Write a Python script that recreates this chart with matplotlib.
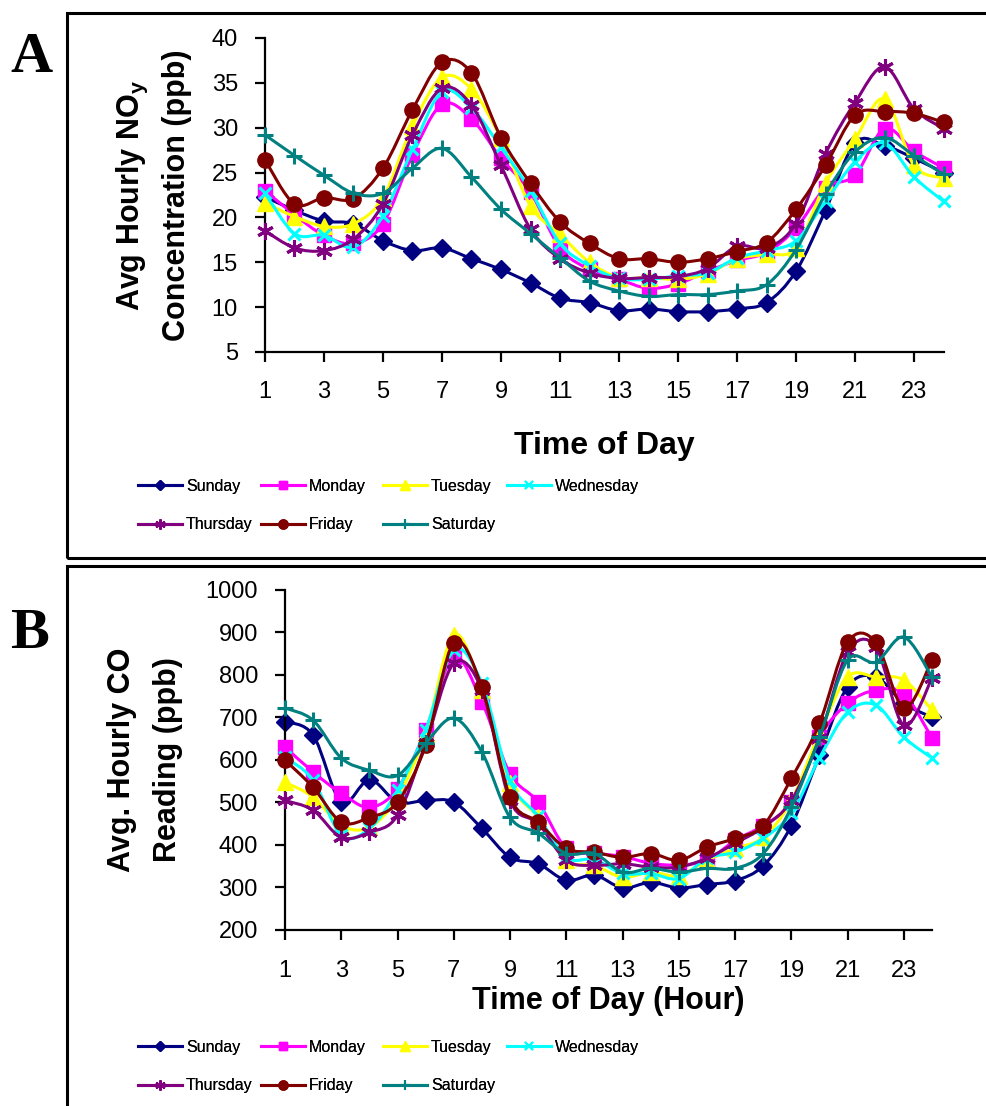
import matplotlib
matplotlib.use('Agg')
import matplotlib.pyplot as plt
from matplotlib.path import Path
from matplotlib.patches import PathPatch, Rectangle
from matplotlib.lines import Line2D
import numpy as np

plt.rcParams['font.family'] = ['Liberation Sans', 'DejaVu Sans']

hours = list(range(1, 25))
days = ['Sunday', 'Monday', 'Tuesday', 'Wednesday', 'Thursday', 'Friday', 'Saturday']
colors = ['#000080', '#FF00FF', '#FFFF00', '#00FFFF', '#800080', '#800000', '#008080']

# panel A: average hourly NOy (ppb)
noy_sun = [22.3, 20.8, 19.6, 19.3, 17.4, 16.3, 16.6, 15.4, 14.2, 12.7, 11.0, 10.5,
           9.6, 9.8, 9.5, 9.5, 9.8, 10.5, 14.0, 20.8, 28.3, 28.0, 26.6, 25.0]
noy_mon = [23.0, 20.3, 18.0, 17.1, 19.3, 27.0, 32.6, 31.0, 26.6, 22.8, 16.6, 14.2,
           13.1, 12.1, 12.6, 14.0, 15.2, 16.1, 18.8, 23.3, 24.7, 29.9, 27.4, 25.5]
noy_tue = [21.6, 20.1, 19.0, 19.3, 22.2, 30.2, 35.6, 34.3, 28.8, 21.3, 18.1, 15.0,
           13.3, 13.3, 13.1, 13.7, 15.4, 15.9, 16.6, 23.8, 28.7, 33.2, 25.8, 24.4]
noy_wed = [22.7, 18.2, 18.0, 16.7, 20.2, 27.6, 34.0, 32.2, 27.8, 23.0, 17.1, 14.6,
           13.2, 13.1, 13.5, 13.8, 15.5, 16.3, 17.4, 21.8, 26.2, 28.3, 24.5, 21.8]
noy_thu = [18.5, 16.6, 16.3, 17.6, 21.5, 29.2, 34.4, 32.5, 25.8, 18.7, 15.4, 13.8,
           13.2, 13.3, 13.4, 14.3, 16.8, 16.6, 19.3, 27.1, 32.8, 36.8, 32.1, 29.9]
noy_fri = [26.4, 21.5, 22.2, 22.1, 25.5, 32.0, 37.3, 36.1, 28.9, 23.8, 19.5, 17.1,
           15.4, 15.4, 15.0, 15.4, 16.2, 17.2, 20.9, 25.8, 31.4, 31.8, 31.6, 30.6]
noy_sat = [29.2, 26.9, 24.7, 22.7, 22.7, 25.5, 27.7, 24.5, 20.9, 18.2, 15.5, 12.9,
           11.8, 11.2, 11.4, 11.4, 11.8, 12.5, 16.4, 22.6, 27.3, 28.9, 26.9, 24.8]

# panel B: average hourly CO (ppb)
co_sun = [690, 658, 500, 553, 500, 504, 500, 438, 370, 355, 316, 328,
          298, 311, 298, 306, 315, 350, 445, 611, 772, 795, 733, 700]
co_mon = [630, 571, 521, 488, 532, 670, 842, 736, 567, 500, 391, 380,
          372, 356, 352, 363, 410, 445, 500, 653, 733, 764, 755, 651]
co_tue = [547, 512, 445, 441, 512, 662, 894, 764, 545, 464, 363, 351,
          323, 335, 327, 363, 391, 417, 504, 662, 795, 795, 788, 717]
co_wed = [606, 552, 422, 438, 528, 670, 858, 780, 550, 467, 370, 365,
          332, 332, 320, 368, 382, 415, 474, 604, 712, 729, 653, 604]
co_thu = [504, 481, 417, 429, 469, 639, 827, 764, 504, 450, 363, 351,
          355, 347, 347, 368, 403, 441, 504, 651, 853, 866, 681, 792]
co_fri = [599, 535, 453, 464, 500, 634, 875, 771, 512, 453, 391, 382,
          370, 379, 363, 394, 415, 445, 556, 686, 877, 877, 722, 835]
co_sat = [722, 693, 604, 575, 563, 639, 698, 618, 464, 427, 379, 379,
          335, 344, 335, 344, 344, 379, 488, 653, 835, 830, 889, 795]

noy = [noy_sun, noy_mon, noy_tue, noy_wed, noy_thu, noy_fri, noy_sat]
co = [co_sun, co_mon, co_tue, co_wed, co_thu, co_fri, co_sat]

markers = ['D', 's', '^', 'x', (6, 2, 0), 'o', '+']
msizes = [9, 9.5, 11, 9, 12, 11, 12]

W, H = 987, 1106


def smooth_path(x, y):
    # Excel-style smoothed line through the data points (cubic Bezier)
    x = np.asarray(x, float)
    y = np.asarray(y, float)
    n = len(x)
    verts = [(x[0], y[0])]
    codes = [Path.MOVETO]
    for i in range(n - 1):
        p0 = i - 1 if i > 0 else i
        p3 = i + 2 if i + 2 < n else i + 1
        c1 = (x[i] + (x[i + 1] - x[p0]) / 6, y[i] + (y[i + 1] - y[p0]) / 6)
        c2 = (x[i + 1] - (x[p3] - x[i]) / 6, y[i + 1] - (y[p3] - y[i]) / 6)
        verts += [c1, c2, (x[i + 1], y[i + 1])]
        codes += [Path.CURVE4] * 3
    return Path(verts, codes)


def draw_panel(ax, series):
    for k, vals in enumerate(series):
        ax.add_patch(PathPatch(smooth_path(hours, vals), fill=False,
                               edgecolor=colors[k], lw=2.2, zorder=2 + k,
                               clip_on=False))
        mew = 2.2 if markers[k] in ('x', '+', (6, 2, 0)) else 1
        ax.plot(hours, vals, ls='none', marker=markers[k], ms=msizes[k],
                color=colors[k], mec=colors[k], mew=mew, zorder=2 + k,
                clip_on=False)
    for s in ['top', 'right']:
        ax.spines[s].set_visible(False)
    for s in ['left', 'bottom']:
        ax.spines[s].set_linewidth(1.6)
    ax.set_xlim(1, 24)
    ax.set_xticks(range(1, 25, 2))
    ax.tick_params(axis='both', direction='out', length=7, width=1.6,
                   labelsize=17)
    ax.tick_params(axis='x', pad=14)
    ax.tick_params(axis='y', pad=12.5)


def add_legend(y_top):
    xs = [138, 261, 383, 507]
    for c in range(4):
        idx = [c, c + 4] if c + 4 < 7 else [c]
        handles = [Line2D([], [], color=colors[k], lw=2.2, marker=markers[k],
                          ms=msizes[k] * 0.6, mec=colors[k],
                          mew=1.5 if markers[k] in ('x', '+', (6, 2, 0)) else 1)
                   for k in idx]
        leg = fig.legend(handles, [days[k] for k in idx], loc='upper left',
                         bbox_to_anchor=(xs[c] / W, 1 - y_top / H),
                         bbox_transform=fig.transFigure, frameon=False,
                         borderpad=0, borderaxespad=0, handlelength=2.75,
                         handletextpad=0.25, labelspacing=1.45,
                         prop={'family': 'Liberation Sans', 'size': 11.5})
        fig.add_artist(leg)


fig = plt.figure(figsize=(W / 100, H / 100), dpi=100)

# panel frames
fig.add_artist(Rectangle((67 / W, 1 - 558 / H), 930 / W, 545 / H,
                         transform=fig.transFigure, fill=False, lw=2.2,
                         edgecolor='black'))
fig.add_artist(Rectangle((67 / W, -0.01), 930 / W, 1 - 566 / H + 0.01,
                         transform=fig.transFigure, fill=False, lw=2.2,
                         edgecolor='black'))

axA = fig.add_axes([265 / W, 1 - 352 / H, (943.5 - 265) / W, (352 - 38) / H])
draw_panel(axA, noy)
axA.set_ylim(5, 40)
axA.set_yticks(range(5, 41, 5))
axA.set_xlabel('Time of Day', fontsize=23, fontweight='bold', labelpad=20)
axA.set_ylabel('Avg Hourly NO$_\\mathregular{y}$\nConcentration (ppb)',
               fontsize=22, fontweight='bold', labelpad=14, linespacing=1.55)

axB = fig.add_axes([285 / W, 1 - 929.5 / H, (932 - 285) / W, (929.5 - 590) / H])
draw_panel(axB, co)
axB.set_ylim(200, 1000)
axB.set_yticks(range(200, 1001, 100))
axB.tick_params(axis='x', pad=15)
axB.set_xlabel('Time of Day (Hour)', fontsize=22, fontweight='bold', labelpad=3)
axB.set_ylabel('Avg. Hourly CO\nReading (ppb)', fontsize=22,
               fontweight='bold', labelpad=16, linespacing=1.7)

add_legend(479)
add_legend(1040)

fig.text(10 / W, 1 - 72 / H, 'A', fontsize=42, fontweight='bold',
         family='Liberation Serif', ha='left', va='baseline')
fig.text(10 / W, 1 - 648 / H, 'B', fontsize=42, fontweight='bold',
         family='Liberation Serif', ha='left', va='baseline')

fig.savefig('out.png', dpi=100)
